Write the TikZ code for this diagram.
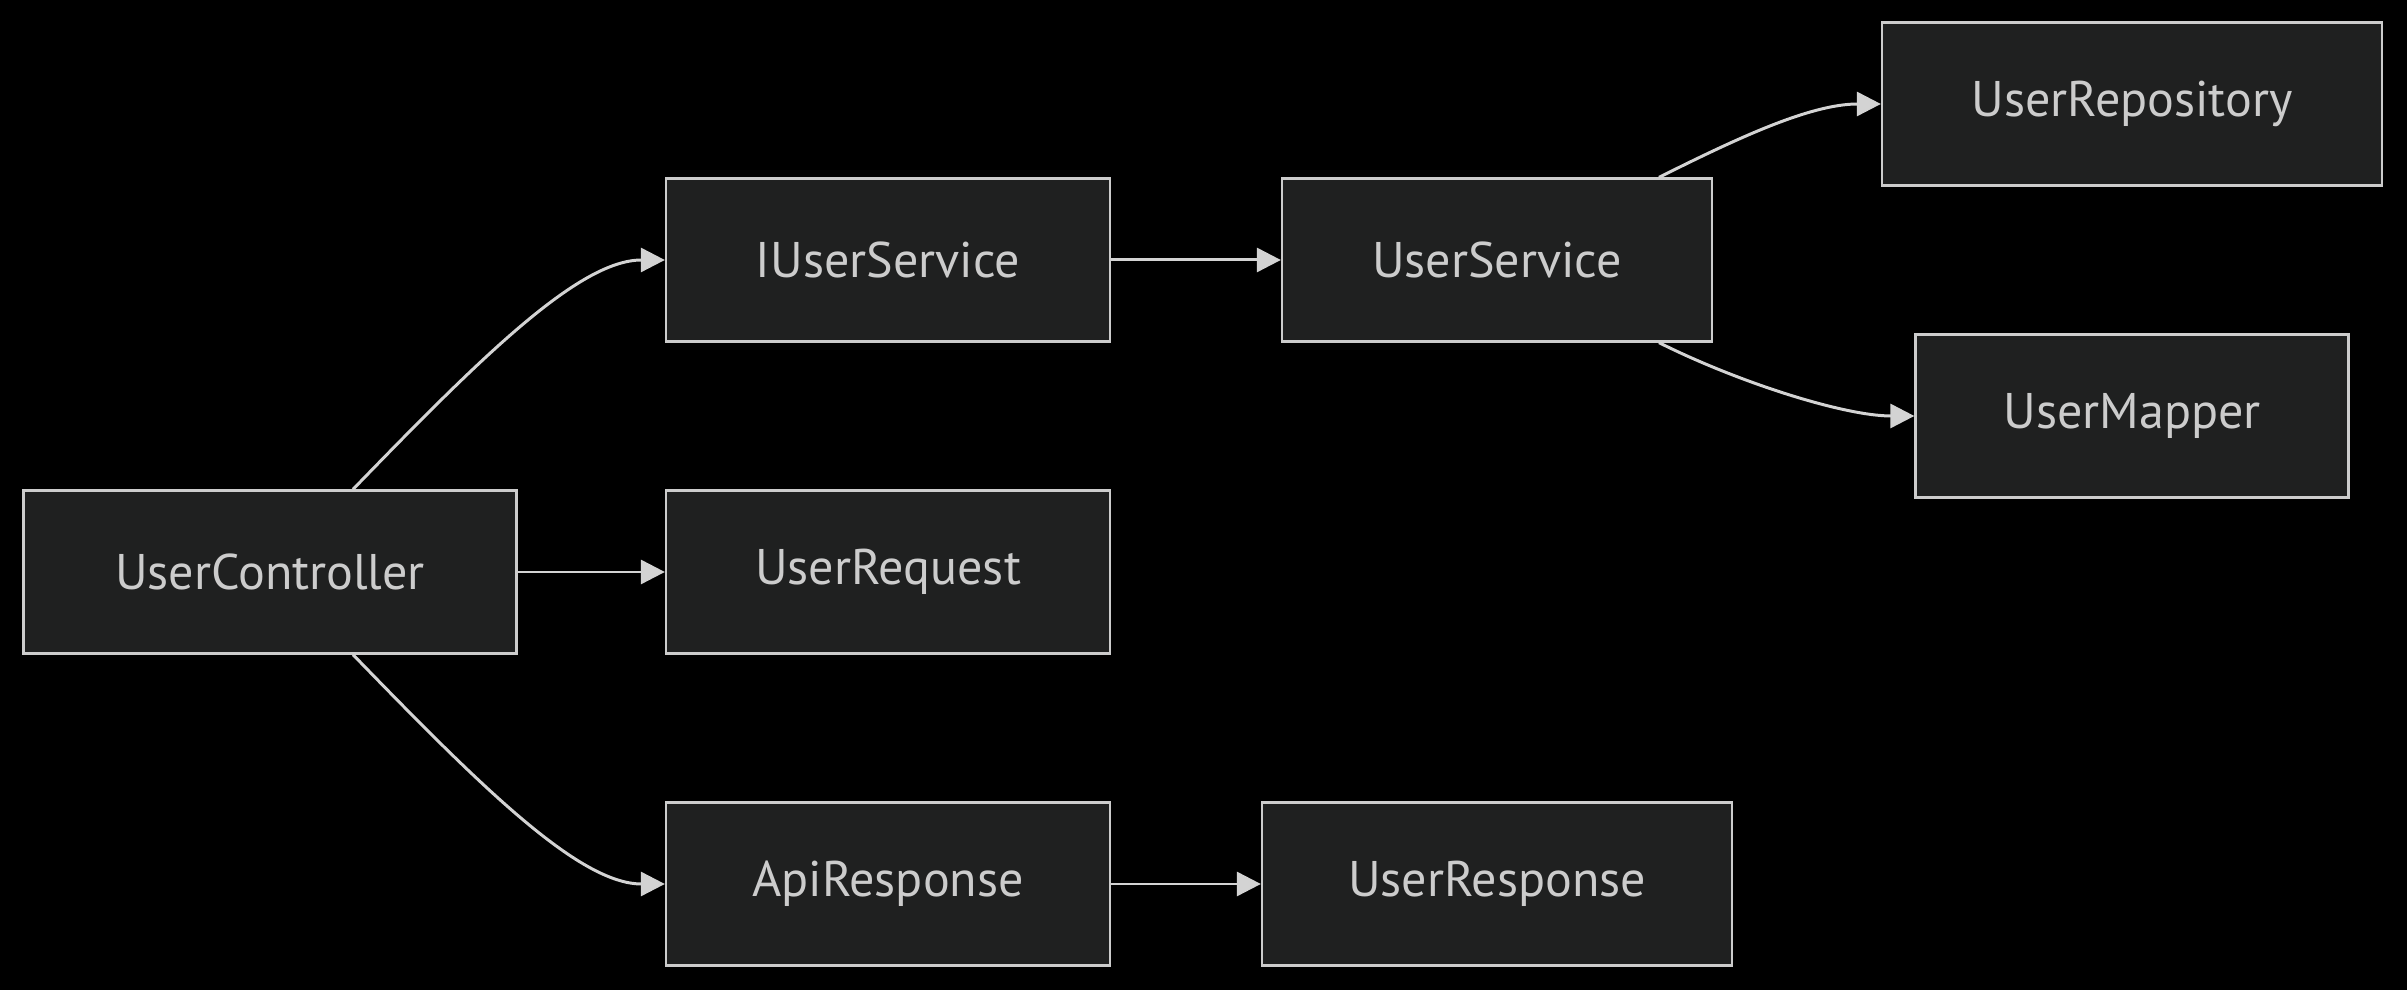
\documentclass[tikz,border=0pt]{standalone}
\usepackage{fontspec}
\setmainfont{PT Sans}
\usepackage{tikz}
\usetikzlibrary{arrows.meta, positioning}
\definecolor{boxfill}{HTML}{1F2020}
\definecolor{boxline}{HTML}{CCCCCC}
\definecolor{textcol}{HTML}{CCCCCC}
\definecolor{linkcol}{HTML}{D3D3D3}
\tikzset{
  classbox/.style={draw=boxline, fill=boxfill, line width=1.3pt, text=textcol,
    minimum height=3.26cm, inner xsep=0pt, font=\fontsize{28.5}{32}\selectfont},
  link/.style={draw=linkcol, line width=1.7pt, -{Triangle[length=0.48cm, width=0.48cm]}}
}

\begin{document}
\begin{tikzpicture}
\fill [black] (0, 0) rectangle (48.14, 19.8);
\useasboundingbox (0, 0) rectangle (48.14, 19.8);
\node [classbox, minimum width=9.86cm] (ctrl) at (5.40, 8.36) {UserController};
\node [classbox, minimum width=8.88cm] (iface) at (17.76, 14.60) {IUserService};
\node [classbox, minimum width=8.88cm] (req) at (17.76, 8.36) {UserRequest};
\node [classbox, minimum width=8.88cm] (api) at (17.76, 2.12) {ApiResponse};
\node [classbox, minimum width=8.60cm] (svc) at (29.94, 14.60) {UserService};
\node [classbox, minimum width=9.40cm] (resp) at (29.94, 2.12) {UserResponse};
\node [classbox, minimum width=10.00cm] (repo) at (42.64, 17.72) {UserRepository};
\node [classbox, minimum width=8.66cm] (mapper) at (42.64, 11.48) {UserMapper};
\draw [link] ([xshift=1.66cm]ctrl.north) .. controls +(2.54, 2.62) and +(-1.72, 0) .. (iface.west);
\draw [link] (ctrl.east) -- (req.west);
\draw [link] ([xshift=1.66cm]ctrl.south) .. controls +(2.54, -2.62) and +(-1.72, 0) .. (api.west);
\draw [link] (iface.east) -- (svc.west);
\draw [link] ([xshift=3.24cm]svc.north) .. controls +(1.6, 0.8) and +(-1.4, 0) .. (repo.west);
\draw [link] ([xshift=3.24cm]svc.south) .. controls +(1.6, -0.8) and +(-1.4, 0) .. (mapper.west);
\draw [link] (api.east) -- (resp.west);
\end{tikzpicture}
\end{document}
